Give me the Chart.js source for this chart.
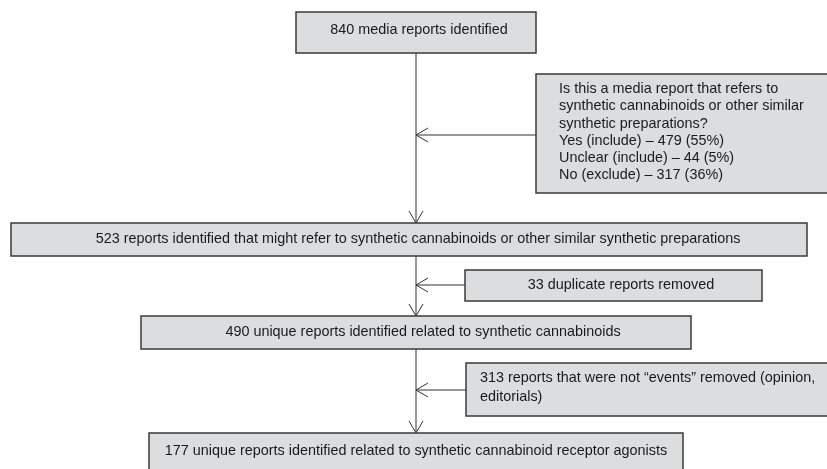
<!DOCTYPE html>
<html>
<head>
<meta charset="utf-8">
<script src="https://cdn.jsdelivr.net/npm/chart.js@4"></script>
<style>
    body { margin: 0; background: #ffffff; }
    #flow { display: block; }
</style>
</head>
<body>
<canvas id="flow" width="827" height="469"></canvas>
<script>
// Flow stages (main column)
const stageCounts = [840, 523, 490, 177];
const stageLabels = [
    'media reports identified',
    'reports identified that might refer to synthetic cannabinoids or other similar synthetic preparations',
    'unique reports identified related to synthetic cannabinoids',
    'unique reports identified related to synthetic cannabinoid receptor agonists'
];

// Screening question and its outcomes
const screenQuestion = [
    'Is this a media report that refers to',
    'synthetic cannabinoids or other similar',
    'synthetic preparations?'
];
const screenOutcomes = ['Yes (include)', 'Unclear (include)', 'No (exclude)'];
const screenCounts = [479, 44, 317];
const screenPercents = [55, 5, 36];

// Removals
const removedCounts = [33, 313];
const removedLabels = [
    ['duplicate reports removed'],
    ['reports that were not \u201cevents\u201d removed (opinion,', 'editorials)']
];

// Layout in chart units (x 0..827, y 0..469 top-down)
const spineX = 416;
const stageBoxes = [
    { x0: 296, x1: 536, y0: 12, y1: 53, tx: 419, ty: 30 },
    { x0: 11, x1: 807, y0: 223, y1: 256, tx: 418, ty: 239 },
    { x0: 141, x1: 691, y0: 316, y1: 349, tx: 423, ty: 332 },
    { x0: 149, x1: 683, y0: 433, y1: 480, tx: 416, ty: 451 }
];
const sideBoxes = [
    { x0: 536, x1: 840, y0: 74, y1: 193, arrowY: 135 },
    { x0: 465, x1: 762, y0: 270, y1: 301, arrowY: 285 },
    { x0: 466, x1: 840, y0: 363, y1: 416, arrowY: 390 }
];

const boxFill = '#dcdddf';
const boxEdge = '#3a3a3a';
const lineColor = '#333333';
const textColor = '#1a1a1a';
const font = '14.4px "Liberation Sans", Arial, sans-serif';

const flowPlugin = {
    id: 'flow',
    afterDraw(chart) {
        const ctx = chart.ctx;
        const xs = chart.scales.x;
        const ys = chart.scales.y;
        const px = v => xs.getPixelForValue(v);
        const py = v => ys.getPixelForValue(v);

        function box(b) {
            ctx.save();
            ctx.fillStyle = boxFill;
            ctx.strokeStyle = boxEdge;
            ctx.lineWidth = 1.5;
            ctx.fillRect(px(b.x0), py(b.y0), px(b.x1) - px(b.x0), py(b.y1) - py(b.y0));
            ctx.strokeRect(px(b.x0), py(b.y0), px(b.x1) - px(b.x0), py(b.y1) - py(b.y0));
            ctx.restore();
        }

        function line(x0, y0, x1, y1) {
            ctx.beginPath();
            ctx.moveTo(px(x0), py(y0));
            ctx.lineTo(px(x1), py(y1));
            ctx.stroke();
        }

        function text(str, x, y, align) {
            ctx.textAlign = align;
            ctx.fillText(str, px(x), py(y));
        }

        ctx.save();
        ctx.strokeStyle = lineColor;
        ctx.lineWidth = 1;

        // main spine with down arrows
        for (let i = 0; i < stageBoxes.length - 1; i++) {
            const top = stageBoxes[i].y1;
            const bottom = stageBoxes[i + 1].y0;
            line(spineX, top, spineX, bottom);
            line(spineX - 7, bottom - 12, spineX, bottom);
            line(spineX + 7, bottom - 12, spineX, bottom);
        }

        // side arrows pointing into the spine
        sideBoxes.forEach(b => {
            line(b.x0, b.arrowY, spineX, b.arrowY);
            line(spineX + 12, b.arrowY - 7, spineX, b.arrowY);
            line(spineX + 12, b.arrowY + 7, spineX, b.arrowY);
        });
        ctx.restore();

        stageBoxes.forEach(box);
        sideBoxes.forEach(box);

        ctx.save();
        ctx.fillStyle = textColor;
        ctx.font = font;
        ctx.textBaseline = 'middle';

        stageBoxes.forEach((b, i) => {
            text(stageCounts[i] + ' ' + stageLabels[i], b.tx, b.ty, 'center');
        });

        // screening box
        const s = sideBoxes[0];
        const lines = screenQuestion.concat(screenOutcomes.map((o, i) =>
            o + ' \u2013 ' + screenCounts[i] + ' (' + screenPercents[i] + '%)'));
        lines.forEach((l, i) => text(l, s.x0 + 23, 89 + i * 17.3, 'left'));

        // duplicates box
        const d = sideBoxes[1];
        text(removedCounts[0] + ' ' + removedLabels[0][0], 621, d.arrowY, 'center');

        // non-events box
        const n = sideBoxes[2];
        text(removedCounts[1] + ' ' + removedLabels[1][0], n.x0 + 14, 378, 'left');
        text(removedLabels[1][1], n.x0 + 14, 397, 'left');
        ctx.restore();
    }
};

new Chart(document.getElementById('flow').getContext('2d'), {
    type: 'scatter',
    data: { datasets: [{ data: [] }] },
    options: {
        responsive: false,
        animation: false,
        devicePixelRatio: 1,
        layout: { padding: 0 },
        scales: {
            x: { display: false, min: 0, max: 827 },
            y: { display: false, min: 0, max: 469, reverse: true }
        },
        plugins: {
            legend: { display: false },
            tooltip: { enabled: false }
        }
    },
    plugins: [flowPlugin]
});
</script>
</body>
</html>
